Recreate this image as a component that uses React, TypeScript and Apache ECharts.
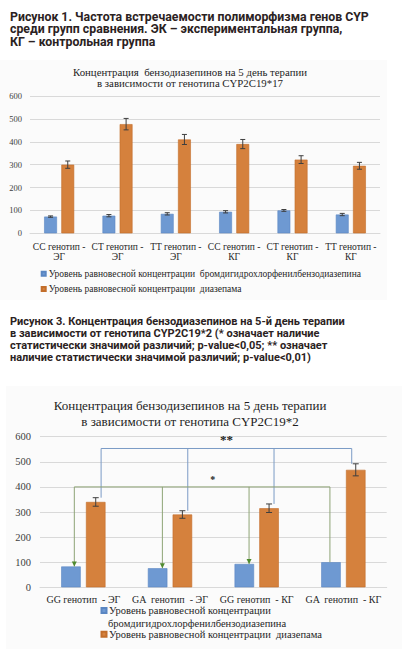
import React, { useEffect, useRef } from "react";
import * as echarts from "echarts";

const BROM = "Уровень равновесной концентрации  бромдигидрохлорфенилбензодиазепина";
const DIAZ = "Уровень равновесной концентрации  диазепама";
const BROM_LINE1 = "Уровень равновесной концентрации";
const BROM_LINE2 = "бромдигидрохлорфенилбензодиазепина";

const caption1 =
  "Рисунок 1. Частота встречаемости полиморфизма генов CYP\nсреди групп сравнения. ЭК – экспериментальная группа,\nКГ – контрольная группа";
const caption2 =
  "Рисунок 3. Концентрация бензодиазепинов на 5-й день терапии\nв зависимости от генотипа CYP2C19*2 (* означает наличие\nстатистически значимой различий; p-value<0,05; ** означает\nналичие статистически значимой различий; p-value<0,01)";
const title1 = "Концентрация  бензодиазепинов на 5 день терапии\nв зависимости от генотипа CYP2C19*17";
const title2 = "Концентрация бензодизепинов на 5 день терапии\nв зависимости от генотипа CYP2C19*2";

// Chart 1 (CYP2C19*17)
const categories1 = [
  "CC генотип -\nЭГ",
  "CT генотип -\nЭГ",
  "TT генотип -\nЭГ",
  "CC генотип -\nКГ",
  "CT генотип -\nКГ",
  "TT генотип -\nКГ",
];
const brom1 = [73, 77, 85, 94, 100, 82];
const bromErr1 = [3, 5, 5, 5, 4, 5];
const diaz1 = [300, 477, 410, 390, 322, 295];
const diazErr1 = [16, 25, 22, 20, 17, 15];

// Chart 2 (CYP2C19*2)
const categories2 = ["GG генотип  - ЭГ", "GA  генотип  - ЭГ", "GG генотип  - КГ", "GA  генотип  - КГ"];
const brom2 = [83, 76, 93, 100];
const diaz2 = [340, 290, 315, 468];
const diazErr2 = [17, 15, 17, 24];
const sigDiazLevel = 553; // ** p<0.01
const sigBromLevel = 400; // * p<0.05

const yTicks = [0, 100, 200, 300, 400, 500, 600];

const BLUE = "#6e99d2";
const BLUE_B = "#5a86c2";
const ORANGE = "#d5813d";
const ORANGE_B = "#c26d2a";
const GRID = "#d9d9d9";
const SERIF = "'Liberation Serif', 'Times New Roman', serif";
const SANS = "Roboto, 'Noto Sans', sans-serif";

function errorRender(offsetFrac: number, cap: number) {
  return (params: any, api: any) => {
    const i = api.value(0);
    const v = api.value(1);
    const e = api.value(2);
    const band = api.size([1, 0])[0];
    const top = api.coord([i, v + e]);
    const bot = api.coord([i, v - e]);
    const x = top[0] + band * offsetFrac;
    const st = { stroke: "#3f3f3f", lineWidth: 1 };
    return {
      type: "group",
      children: [
        { type: "line", shape: { x1: x, y1: top[1], x2: x, y2: bot[1] }, style: st },
        { type: "line", shape: { x1: x - cap, y1: top[1], x2: x + cap, y2: top[1] }, style: st },
        { type: "line", shape: { x1: x - cap, y1: bot[1], x2: x + cap, y2: bot[1] }, style: st },
      ],
    };
  };
}

function bracketRender(
  tops: number[],
  offsets: number[],
  color: string,
  arrowColor: string | null,
  label: string,
  labelDx: number,
  labelDy: number,
  fontSize: number
) {
  return (params: any, api: any) => {
    const level = api.value(1);
    const band = api.size([1, 0])[0];
    const children: any[] = [];
    const xs = tops.map((_, i) => api.coord([i, level])[0] + band * offsets[i]);
    const yL = api.coord([0, level])[1];
    children.push({
      type: "line",
      shape: { x1: xs[0], y1: yL, x2: xs[xs.length - 1], y2: yL },
      style: { stroke: color, lineWidth: 1 },
    });
    tops.forEach((t, i) => {
      const yT = api.coord([i, t])[1];
      children.push({
        type: "line",
        shape: { x1: xs[i], y1: yL, x2: xs[i], y2: yT },
        style: { stroke: color, lineWidth: 1 },
      });
      if (arrowColor && i < tops.length - 1) {
        children.push({
          type: "polygon",
          shape: { points: [[xs[i] - 2.5, yT - 5], [xs[i] + 2.5, yT - 5], [xs[i], yT]] },
          style: { fill: arrowColor },
        });
      }
    });
    children.push({
      type: "text",
      x: (xs[0] + xs[xs.length - 1]) / 2 + labelDx,
      y: yL - labelDy,
      style: {
        text: label,
        fill: "#222",
        font: `bold ${fontSize}px ${SERIF}`,
        align: "center",
        verticalAlign: "middle",
      },
    });
    return { type: "group", children };
  };
}

export default function App() {
  const ref = useRef<HTMLDivElement>(null);
  useEffect(() => {
    const chart = echarts.init(ref.current!, null, { renderer: "svg" });
    const yAxisCommon = (fontSize: number, margin: number) => ({
      type: "value",
      min: 0,
      max: yTicks[yTicks.length - 1],
      interval: yTicks[1] - yTicks[0],
      axisLine: { show: false },
      axisTick: { show: false },
      splitLine: { lineStyle: { color: GRID, width: 1 } },
      axisLabel: { color: "#404040", fontFamily: SERIF, fontSize, margin },
    });
    const legendText = (fontSize: number, padLeft: number) => ({
      fontFamily: SERIF,
      fontSize,
      lineHeight: 10,
      color: "#262626",
      padding: [0, 0, 0, padLeft],
    });
    const option: any = {
      animation: false,
      backgroundColor: "#ffffff",
      graphic: [
        { type: "rect", shape: { x: 0, y: 60, width: 387, height: 240 }, style: { fill: "#fbfbfb" }, z: -10 },
        { type: "rect", shape: { x: 6, y: 386, width: 396, height: 263 }, style: { fill: "#fbfbfb" }, z: -10 },
      ],
      title: [
        {
          text: caption1,
          left: 10,
          top: 10.2,
          padding: 0,
          textStyle: { fontFamily: SANS, fontWeight: "bold", fontSize: 12.3, lineHeight: 12.6, color: "#2b2222" },
        },
        {
          text: caption2,
          left: 10,
          top: 315.6,
          padding: 0,
          textStyle: { fontFamily: SANS, fontWeight: "bold", fontSize: 11, lineHeight: 12.1, color: "#2b2222" },
        },
        {
          text: title1,
          left: 190,
          textAlign: "center",
          top: 67,
          padding: 0,
          textStyle: { fontFamily: SERIF, fontWeight: "normal", fontSize: 10.8, lineHeight: 10.5, color: "#1e1e1e" },
        },
        {
          text: title2,
          left: 190,
          textAlign: "center",
          top: 397,
          padding: 0,
          textStyle: { fontFamily: SERIF, fontWeight: "normal", fontSize: 13, lineHeight: 16, color: "#1e1e1e" },
        },
        {
          text: BROM_LINE2,
          left: 108,
          top: 618,
          padding: 0,
          textStyle: { fontFamily: SERIF, fontWeight: "normal", fontSize: 10.5, lineHeight: 10, color: "#262626" },
        },
      ],
      legend: [
        {
          orient: "vertical",
          left: 40.7,
          top: 268.2,
          padding: 0,
          itemGap: 4.3,
          itemWidth: 4,
          itemHeight: 4,
          icon: "rect",
          selectedMode: false,
          data: [BROM, DIAZ],
          textStyle: { ...legendText(9.5, -2), lineHeight: 11 },
        },
        {
          left: 100.5,
          top: 605,
          padding: 0,
          itemWidth: 5,
          itemHeight: 5,
          icon: "rect",
          selectedMode: false,
          data: [BROM],
          formatter: () => BROM_LINE1,
          textStyle: legendText(10.5, -2.5),
        },
        {
          left: 100.5,
          top: 628.7,
          padding: 0,
          itemWidth: 5,
          itemHeight: 5,
          icon: "rect",
          selectedMode: false,
          data: [DIAZ],
          textStyle: legendText(10.5, -2.5),
        },
      ],
      grid: [
        { left: 30, right: 26, top: 96, bottom: 415.7, containLabel: false },
        { left: 40, right: 19.3, top: 436.7, bottom: 61.7, containLabel: false },
      ],
      xAxis: [
        {
          type: "category",
          gridIndex: 0,
          data: categories1,
          axisLine: { lineStyle: { color: GRID } },
          axisTick: { show: false },
          axisLabel: { color: "#262626", fontFamily: SERIF, fontSize: 9.5, lineHeight: 9.5, margin: 9, interval: 0 },
        },
        {
          type: "category",
          gridIndex: 1,
          data: categories2,
          axisLine: { lineStyle: { color: GRID } },
          axisTick: { show: false },
          axisLabel: { color: "#262626", fontFamily: SERIF, fontSize: 10, lineHeight: 11, margin: 6.5, interval: 0 },
        },
      ],
      yAxis: [
        { gridIndex: 0, ...yAxisCommon(8.5, 8) },
        { gridIndex: 1, ...yAxisCommon(10.5, 9) },
      ],
      series: [
        {
          name: BROM,
          type: "bar",
          xAxisIndex: 0,
          yAxisIndex: 0,
          data: brom1,
          barWidth: "22%",
          barGap: "34%",
          itemStyle: { color: BLUE, borderColor: BLUE_B, borderWidth: 0.6 },
        },
        {
          name: DIAZ,
          type: "bar",
          xAxisIndex: 0,
          yAxisIndex: 0,
          data: diaz1,
          barWidth: "22%",
          barGap: "34%",
          itemStyle: { color: ORANGE, borderColor: ORANGE_B, borderWidth: 0.6 },
        },
        {
          type: "custom",
          xAxisIndex: 0,
          yAxisIndex: 0,
          renderItem: errorRender(-0.1474, 2.5),
          encode: { x: 0, y: 1 },
          data: brom1.map((v, i) => [i, v, bromErr1[i]]),
          clip: false,
          z: 5,
        },
        {
          type: "custom",
          xAxisIndex: 0,
          yAxisIndex: 0,
          renderItem: errorRender(0.1474, 2.5),
          encode: { x: 0, y: 1 },
          data: diaz1.map((v, i) => [i, v, diazErr1[i]]),
          clip: false,
          z: 5,
        },
        {
          name: BROM,
          type: "bar",
          xAxisIndex: 1,
          yAxisIndex: 1,
          data: brom2,
          barWidth: "22.5%",
          barGap: "27%",
          itemStyle: { color: BLUE, borderColor: BLUE_B, borderWidth: 0.6 },
        },
        {
          name: DIAZ,
          type: "bar",
          xAxisIndex: 1,
          yAxisIndex: 1,
          data: diaz2,
          barWidth: "22.5%",
          barGap: "27%",
          itemStyle: { color: ORANGE, borderColor: ORANGE_B, borderWidth: 0.6 },
        },
        {
          type: "custom",
          xAxisIndex: 1,
          yAxisIndex: 1,
          renderItem: errorRender(0.1429, 3),
          encode: { x: 0, y: 1 },
          data: diaz2.map((v, i) => [i, v, diazErr2[i]]),
          clip: false,
          z: 5,
        },
        {
          type: "custom",
          xAxisIndex: 1,
          yAxisIndex: 1,
          renderItem: bracketRender(
            diaz2.map((v, i) => v + diazErr2[i]),
            [0.205, 0.205, 0.2, 0.0965],
            "#7b9bc6",
            null,
            "**",
            0,
            9,
            13
          ),
          encode: { x: 0, y: 1 },
          data: [[0, sigDiazLevel]],
          clip: false,
          z: 6,
        },
        {
          type: "custom",
          xAxisIndex: 1,
          yAxisIndex: 1,
          renderItem: bracketRender(
            brom2,
            [-0.104, -0.088, -0.088, -0.155],
            "#8ea476",
            "#4f8a2f",
            "*",
            10.5,
            7,
            10
          ),
          encode: { x: 0, y: 1 },
          data: [[0, sigBromLevel]],
          clip: false,
          z: 6,
        },
      ],
    };
    chart.setOption(option);
    return () => chart.dispose();
  }, []);
  return <div ref={ref} style={{ position: "absolute", left: 0, top: 0, width: 406, height: 649 }} />;
}
